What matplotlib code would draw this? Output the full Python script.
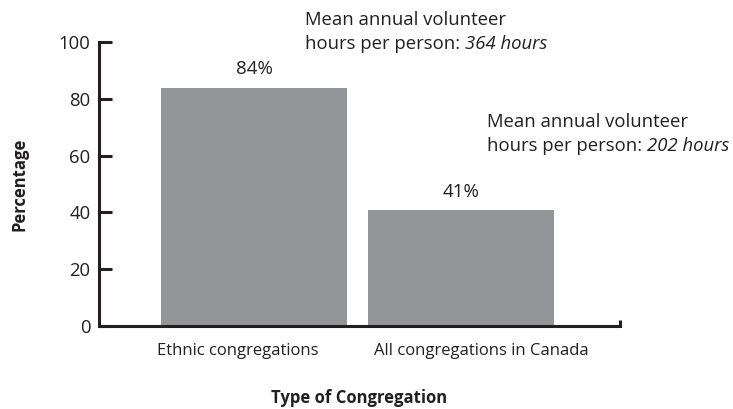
import matplotlib.pyplot as plt
from matplotlib.transforms import offset_copy

plt.rcParams['font.family'] = ['Open Sans', 'DejaVu Sans']

# data
categories = ['Ethnic congregations', 'All congregations in Canada']
percent = [84, 41]
bar_labels = ['84%', '41%']
mean_hours = ['364 hours', '202 hours']

bar_color = '#939598'
ink = '#231f20'

fig = plt.figure(figsize=(7.33, 4.09), dpi=100)
ax = fig.add_axes([0.135, 0.203, 0.711, 0.694])

x = list(range(len(categories)))
ax.bar(x, percent, width=0.9, color=bar_color, zorder=2)

for xi, v, lab in zip(x, percent, bar_labels):
    ax.text(xi, v + 3.2, lab, ha='center', va='bottom', fontsize=13.5, color=ink)

ax.set_xlim(-0.749, 1.768)
ax.set_ylim(0, 100)
ax.set_yticks([0, 20, 40, 60, 80, 100])
ax.tick_params(axis='y', direction='in', length=9, width=2.2, labelsize=13.3,
               colors=ink, pad=6)
ax.tick_params(axis='x', length=0, labelsize=12, colors=ink, pad=12)
# tick labels sit a little off the bar centres in the original
ax.set_xticks([xi + d for xi, d in zip(x, [-0.077, 0.097])])
ax.set_xticklabels(categories)

for s in ['top', 'right']:
    ax.spines[s].set_visible(False)
for s in ['left', 'bottom']:
    ax.spines[s].set_linewidth(2.2)
    ax.spines[s].set_color(ink)
# little upturn at end of the x axis
ax.plot([1, 1], [0, 0.022], transform=ax.transAxes, color=ink, lw=2.2,
        clip_on=False, solid_capstyle='butt')

ax.set_ylabel('Percentage', fontsize=12, fontweight='bold', color=ink, labelpad=22)
ax.set_xlabel('Type of Congregation', fontsize=12, fontweight='bold', color=ink,
              labelpad=22)

# mean hours notes
note_pos = [(0.246, 111), (1.126, 75)]
for (nx, ny), hrs in zip(note_pos, mean_hours):
    t1 = ax.text(nx, ny, 'Mean annual volunteer', fontsize=13.3, color=ink,
                 va='top', ha='left', clip_on=False)
    t2 = ax.text(nx, ny, 'hours per person:', fontsize=13.3, color=ink, va='top',
                 ha='left', clip_on=False,
                 transform=offset_copy(ax.transData, fig=fig, y=-24, units='dots'))
    ax.annotate(hrs, xy=(1, 0), xycoords=t2, xytext=(3.5, 0),
                textcoords='offset points', fontsize=13.3, style='italic',
                color=ink, va='bottom', ha='left')

fig.savefig('out.png', dpi=100)
